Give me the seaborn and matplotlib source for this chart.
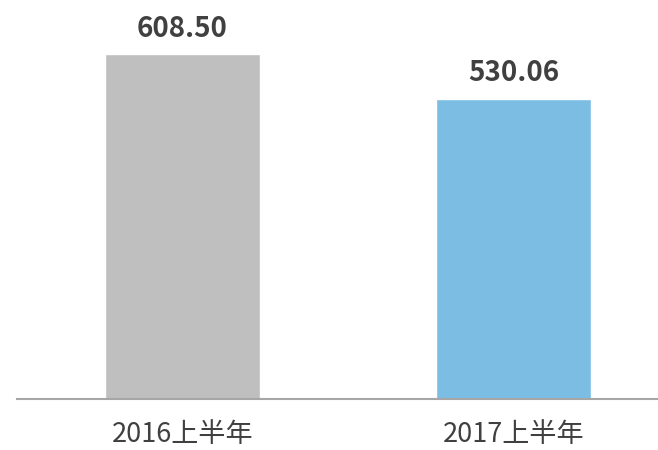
import pandas as pd
import seaborn as sns
import matplotlib.pyplot as plt

# Veri
donem = ['2016上半年', '2017上半年']
deger = [608.50, 530.06]
renkler = ['#BFBFBF', '#7CBDE3']

df = pd.DataFrame({'donem': donem, 'deger': deger})

sns.set_style('white')
plt.rcParams['font.family'] = ['Noto Sans CJK SC', 'DejaVu Sans']

# Grafik
fig = plt.figure(figsize=(6.58, 4.5), dpi=100)
ax = fig.add_axes([0.0258, 0.1133, 0.9742, 0.8867])
sns.barplot(data=df, x='donem', y='deger', hue='donem', palette=renkler, width=0.468,
            saturation=1, legend=False, ax=ax)
for i, v in enumerate(deger):
    ax.annotate(f'{v:.2f}', (i, v), xytext=(0, 8), textcoords='offset points',
                ha='center', va='bottom', fontsize=20, fontweight='bold', color='#404040')
plt.xlim(-0.5, 1.437)
plt.ylim(0, 704)
plt.xlabel('')
plt.ylabel('')
plt.yticks([])
plt.xticks(fontsize=19.5, color='#404040')
ax.tick_params(axis='x', length=0, pad=16)
sns.despine(left=True)
ax.spines['bottom'].set_color('#A6A6A6')
ax.spines['bottom'].set_linewidth(1.5)
plt.savefig('out.png', dpi=100)
